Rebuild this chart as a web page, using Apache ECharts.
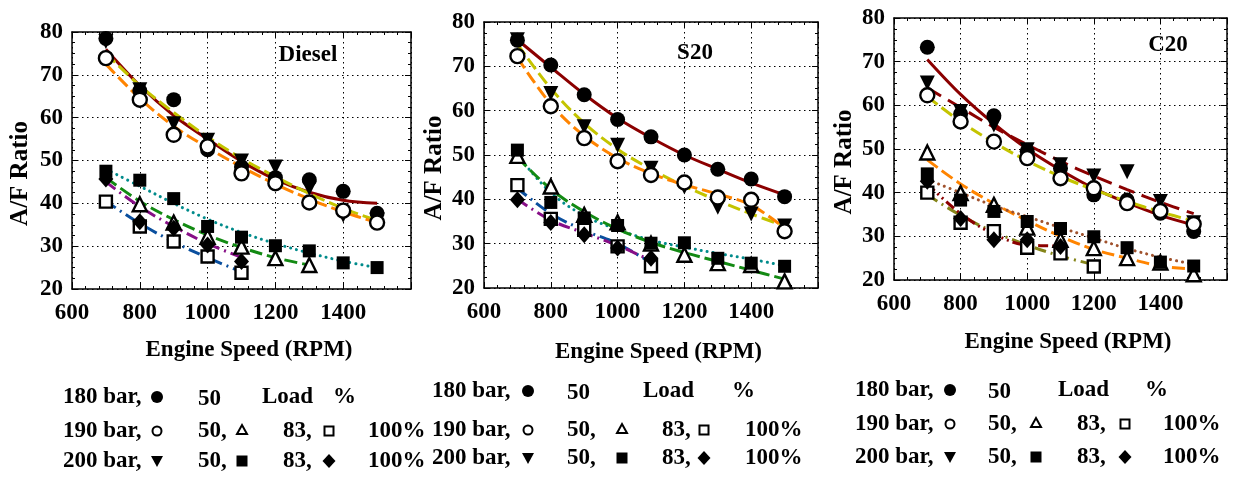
<!DOCTYPE html>
<html>
<head>
<meta charset="utf-8">
<title>A/F Ratio vs Engine Speed</title>
<script src="https://cdn.jsdelivr.net/npm/echarts@6.0.0/dist/echarts.min.js"></script>
<style>
  html, body { margin: 0; padding: 0; background: #fff; }
  #chart { width: 1237px; height: 481px; }
</style>
</head>
<body>
<div id="chart"></div>
<script>
// engine speeds (RPM) shared by every series
const speeds = [700, 800, 900, 1000, 1100, 1200, 1300, 1400, 1500]
const panelTitles = ['Diesel', 'S20', 'C20']
const pressureLabels = ['180 bar,', '190 bar,', '200 bar,']
const loadLabels = ['50', '50,', '83,', '100%']

// ---- Diesel: measured points ----
const dsl180_50 = [78.5, 66.3, 64.2, 52.5, 48.5, 46.0, 45.5, 42.8, 37.7]
const dsl190_50 = [73.9, 64.2, 56.0, 53.3, 47.0, 44.7, 40.2, 38.3, 35.5]
const dsl200_50 = [77.8, 66.5, 58.6, 54.7, 49.9, 48.5, 43.5, 37.2, 36.2]
const dsl190_83 = [null, 39.8, 35.5, 32.2, 29.9, 27.2, 25.6]
const dsl200_83 = [47.5, 45.4, 41.1, 34.6, 32.1, 30.1, 28.9, 26.1, 25.0]
const dsl190_100 = [40.4, 34.6, 31.1, 27.6, 23.8]
const dsl200_100 = [45.7, 35.7, 34.2, 30.3, 26.4]
// ---- Diesel: trend lines ----
const dslFit180_50 = [76.0, 67.5, 60.5, 55.0, 49.8, 45.6, 42.6, 40.7, 40.0]
const dslFit190_50 = [72.5, 64.5, 58.0, 53.0, 48.5, 44.5, 41.0, 38.0, 35.5]
const dslFit200_50 = [75.0, 67.5, 61.2, 55.5, 50.5, 46.2, 42.3, 38.8, 36.0]
const dslFit190_83 = [46.0, 40.5, 36.2, 32.6, 29.7, 27.3, 25.6]
const dslFit200_83 = [48.0, 44.0, 40.0, 36.3, 33.2, 30.6, 28.4, 26.5, 25.0]
const dslFit190_100 = [40.5, 35.3, 31.0, 27.3, 24.0]
const dslFit200_100 = [45.0, 39.2, 34.6, 30.6, 27.4]

// ---- S20: measured points ----
const s20_180_50 = [75.9, 70.3, 63.6, 58.0, 54.1, 50.0, 46.8, 44.6, 40.6]
const s20_190_50 = [72.3, 61.0, 53.8, 48.6, 45.5, 43.8, 40.4, 39.9, 32.8]
const s20_200_50 = [76.0, 63.9, 56.4, 52.2, 47.0, 42.8, 38.2, 36.7, 34.0]
const s20_190_83 = [49.8, 42.9, 36.5, 34.8, 30.0, 27.5, 25.6, 25.2, 21.5]
const s20_200_83 = [51.1, 39.3, 35.8, 34.1, 30.1, 30.2, 26.7, 25.6, 24.9]
const s20_190_100 = [43.2, 35.6, 33.1, 29.4, 24.9]
const s20_200_100 = [39.9, 34.8, 32.0, 29.0, 26.7]
// ---- S20: trend lines ----
const s20Fit180_50 = [76.0, 69.8, 63.7, 58.3, 53.9, 50.0, 46.8, 43.7, 41.0]
const s20Fit190_50 = [72.0, 61.5, 54.3, 49.3, 45.8, 43.3, 41.2, 38.7, 33.5]
const s20Fit200_50 = [75.0, 65.0, 57.2, 51.3, 46.8, 43.0, 39.7, 36.7, 34.0]
const s20Fit190_83 = [49.5, 42.3, 37.2, 33.3, 30.3, 28.0, 26.0, 24.0, 22.0]
const s20Fit200_83 = [50.0, 41.5, 36.3, 33.2, 30.8, 29.2, 27.8, 26.5, 25.0]
const s20Fit190_100 = [42.5, 36.8, 33.0, 30.0, 25.7]
const s20Fit200_100 = [40.0, 35.3, 32.4, 29.6, 26.2]

// ---- C20: measured points ----
const c20_180_50 = [73.3, 58.0, 57.6, 49.5, 45.6, 39.5, 38.3, 35.3, 31.1]
const c20_190_50 = [62.3, 56.3, 51.7, 47.9, 43.3, 41.0, 37.6, 35.8, 32.8]
const c20_200_50 = [65.1, 58.6, 55.5, 49.8, 46.4, 43.8, 44.8, 38.0, 33.1]
const c20_190_83 = [49.2, 39.9, 37.2, 32.0, 29.2, 27.3, 25.0, 24.0, 21.3]
const c20_200_83 = [44.3, 38.3, 35.7, 33.4, 31.8, 29.9, 27.4, 24.1, 23.2]
const c20_190_100 = [40.0, 33.1, 31.2, 27.4, 26.1, 23.1]
const c20_200_100 = [42.6, 34.1, 29.2, 29.2, 27.7]
// ---- C20: trend lines ----
const c20Fit180_50 = [70.5, 62.5, 55.8, 50.0, 45.2, 41.0, 37.7, 34.8, 32.6]
const c20Fit190_50 = [62.0, 56.3, 51.5, 47.3, 43.7, 40.7, 38.0, 35.6, 33.5]
const c20Fit200_50 = [64.0, 59.5, 55.0, 51.0, 47.2, 43.8, 40.7, 37.8, 35.2]
const c20Fit190_83 = [47.5, 42.0, 37.5, 33.6, 30.0, 27.0, 25.0, 23.2, 22.5]
const c20Fit200_83 = [43.0, 40.0, 37.0, 34.5, 32.0, 29.6, 27.2, 25.2, 23.6]
const c20Fit190_100 = [39.5, 34.8, 31.0, 28.0, 25.5, 23.5]
const c20Fit200_100 = [42.0, 35.2, 30.5, 28.0, 27.8]

const serif = '"Liberation Serif", "Times New Roman", serif'
const DARKRED = '#8b0000'
const YELLOW = '#c4c400'
const ORANGE = '#ff8400'
const GREEN = '#138a13'
const TEAL = '#008b8b'
const BLUE = '#0a4f9e'
const PURPLE = '#870f87'
const BROWN = '#a0522d'
const OLIVE = '#85851a'

const DASH = [13, 5]
const DOT = [0.1, 6]
const DASHDOT = [12, 5, 2, 5]

const markerStyles = {
  fillCircle: { symbol: 'circle', size: 15, filled: true },
  openCircle: { symbol: 'circle', size: 14, filled: false },
  downTri: { symbol: 'triangle', size: 15, filled: true, rotate: 180 },
  openTri: { symbol: 'triangle', size: 14, filled: false },
  fillSquare: { symbol: 'rect', size: 13, filled: true },
  openSquare: { symbol: 'rect', size: 12, filled: false },
  diamond: { symbol: 'diamond', size: [15, 17], filled: true }
}

const pairs = (values) =>
  values.map((v, i) => [speeds[i], v]).filter(p => p[1] != null)

const markers = (panel, values, kind) => {
  const m = markerStyles[kind]
  return {
    type: 'scatter',
    xAxisIndex: panel * 2,
    yAxisIndex: panel * 2,
    data: pairs(values),
    symbol: m.symbol,
    symbolSize: m.size,
    symbolRotate: m.rotate || 0,
    itemStyle: m.filled
      ? { color: '#000', opacity: 1 }
      : { color: '#fff', borderColor: '#000', borderWidth: 2.4, opacity: 1 },
    z: 5,
    silent: true
  }
}

const trend = (panel, values, color, dash) => ({
  type: 'line',
  xAxisIndex: panel * 2,
  yAxisIndex: panel * 2,
  data: pairs(values),
  smooth: 0.35,
  symbol: 'none',
  lineStyle: { color, width: 3, type: dash, cap: dash === DOT ? 'round' : 'butt' },
  z: 3,
  silent: true
})

const series = [
  // Diesel
  trend(0, dslFit180_50, DARKRED, 'solid'),
  trend(0, dslFit200_50, YELLOW, DASH),
  trend(0, dslFit190_50, ORANGE, DASH),
  trend(0, dslFit200_83, TEAL, DOT),
  trend(0, dslFit190_83, GREEN, DASH),
  trend(0, dslFit190_100, BLUE, DASHDOT),
  trend(0, dslFit200_100, PURPLE, DASHDOT),
  markers(0, dsl180_50, 'fillCircle'),
  markers(0, dsl200_50, 'downTri'),
  markers(0, dsl190_50, 'openCircle'),
  markers(0, dsl190_83, 'openTri'),
  markers(0, dsl190_100, 'openSquare'),
  markers(0, dsl200_83, 'fillSquare'),
  markers(0, dsl200_100, 'diamond'),
  // S20
  trend(1, s20Fit180_50, DARKRED, 'solid'),
  trend(1, s20Fit200_50, YELLOW, DASH),
  trend(1, s20Fit190_50, ORANGE, DASH),
  trend(1, s20Fit200_83, TEAL, DOT),
  trend(1, s20Fit190_83, GREEN, DASH),
  trend(1, s20Fit190_100, BLUE, DASHDOT),
  trend(1, s20Fit200_100, PURPLE, DASHDOT),
  markers(1, s20_180_50, 'fillCircle'),
  markers(1, s20_200_50, 'downTri'),
  markers(1, s20_190_50, 'openCircle'),
  markers(1, s20_190_83, 'openTri'),
  markers(1, s20_190_100, 'openSquare'),
  markers(1, s20_200_83, 'fillSquare'),
  markers(1, s20_200_100, 'diamond'),
  // C20
  trend(2, c20Fit180_50, DARKRED, 'solid'),
  trend(2, c20Fit200_50, DARKRED, [16, 8]),
  trend(2, c20Fit190_50, YELLOW, DASH),
  trend(2, c20Fit190_83, ORANGE, DASH),
  trend(2, c20Fit200_83, BROWN, DOT),
  trend(2, c20Fit190_100, OLIVE, DASHDOT),
  trend(2, c20Fit200_100, DARKRED, [10, 4, 2, 4, 2, 4]),
  markers(2, c20_180_50, 'fillCircle'),
  markers(2, c20_200_50, 'downTri'),
  markers(2, c20_190_50, 'openCircle'),
  markers(2, c20_190_83, 'openTri'),
  markers(2, c20_190_100, 'openSquare'),
  markers(2, c20_200_83, 'fillSquare'),
  markers(2, c20_200_100, 'diamond')
]

const grids = [
  { left: 72, top: 32, width: 339, height: 257 },
  { left: 484, top: 22, width: 334, height: 266 },
  { left: 894, top: 18, width: 333, height: 262 }
]

const frameLine = { show: true, onZero: false, lineStyle: { color: '#000', width: 1.5 } }
const dottedGrid = { show: true, lineStyle: { color: '#000', width: 1, type: [1.5, 3.5] } }
const tickFont = { color: '#000', fontFamily: serif, fontWeight: 'bold', fontSize: 23 }
const nameFont = { color: '#000', fontFamily: serif, fontWeight: 'bold' }

const xAxes = []
const yAxes = []
grids.forEach((g, i) => {
  const xBase = {
    gridIndex: i, type: 'value', min: 600, max: 1600, interval: 200,
    axisLine: frameLine,
    axisTick: { inside: true, length: 6, lineStyle: { color: '#000' } },
    minorTick: { show: true, splitNumber: 5, length: 3, lineStyle: { color: '#000' } }
  }
  const yBase = {
    gridIndex: i, type: 'value', min: 20, max: 80, interval: 10,
    axisLine: frameLine,
    axisTick: { inside: true, length: 6, lineStyle: { color: '#000' } },
    minorTick: { show: true, splitNumber: 4, length: 3, lineStyle: { color: '#000' } }
  }
  xAxes.push({
    ...xBase,
    position: 'bottom',
    axisLabel: { ...tickFont, margin: 13, showMaxLabel: false, formatter: v => String(v) },
    splitLine: dottedGrid,
    name: 'Engine Speed (RPM)',
    nameLocation: 'middle',
    nameGap: [50, 53, 51][i],
    nameTextStyle: { ...nameFont, fontSize: 23, padding: [0, 0, 0, 15] }
  })
  xAxes.push({ ...xBase, position: 'top', axisLabel: { show: false }, splitLine: { show: false } })
  yAxes.push({
    ...yBase,
    position: 'left',
    axisLabel: { ...tickFont, margin: 9 },
    splitLine: dottedGrid,
    name: 'A/F Ratio',
    nameLocation: 'middle',
    nameRotate: 90,
    nameGap: [39, 37, 37][i],
    nameTextStyle: { ...nameFont, fontSize: 25, padding: [0, 26, 0, 0] }
  })
  yAxes.push({ ...yBase, position: 'right', axisLabel: { show: false }, splitLine: { show: false } })
})

// panel titles inside the plots
const titlePos = [[308, 55], [695, 53], [1168, 45]]

// legend block under each panel
const legendFont = 'bold 23px ' + serif
const legendLayouts = [
  { rows: [397, 431, 461], bar: 63, m1: 157, n1: 198, m2: 242, n2: 283, m3: 329, n3: 368, load: 262, pct: 333 },
  { rows: [391, 430, 458], bar: 432, m1: 528, n1: 567, m2: 622, n2: 662, m3: 704, n3: 745, load: 643, pct: 732 },
  { rows: [390, 424, 457], bar: 855, m1: 950, n1: 988, m2: 1036, n2: 1077, m3: 1125, n3: 1163, load: 1058, pct: 1145 }
]

const legendText = (x, y, text) => ({
  type: 'text', x, y,
  style: { text, font: legendFont, fill: '#000', textAlign: 'left', textVerticalAlign: 'middle' }
})

const legendKey = (kind, cx, cy) => {
  const solid = { fill: '#000' }
  const hollow = { fill: '#fff', stroke: '#000', lineWidth: 2 }
  switch (kind) {
    case 'fillCircle': return { type: 'circle', shape: { cx, cy, r: 6 }, style: solid }
    case 'openCircle': return { type: 'circle', shape: { cx, cy, r: 4.5 }, style: hollow }
    case 'downTri': return { type: 'polygon', shape: { points: [[cx - 6, cy - 5], [cx + 6, cy - 5], [cx, cy + 6]] }, style: solid }
    case 'openTri': return { type: 'polygon', shape: { points: [[cx - 5, cy + 4], [cx + 5, cy + 4], [cx, cy - 5]] }, style: hollow }
    case 'fillSquare': return { type: 'rect', shape: { x: cx - 5.5, y: cy - 5.5, width: 11, height: 11 }, style: solid }
    case 'openSquare': return { type: 'rect', shape: { x: cx - 4.5, y: cy - 4.5, width: 9, height: 9 }, style: hollow }
    default: return { type: 'polygon', shape: { points: [[cx, cy - 7], [cx + 6.5, cy], [cx, cy + 7], [cx - 6.5, cy]] }, style: solid }
  }
}

const graphics = []
titlePos.forEach(([x, y], i) => {
  graphics.push({
    type: 'text', x, y, z: 10,
    style: { text: panelTitles[i], font: 'bold 23px ' + serif, fill: '#000', textAlign: 'center', textVerticalAlign: 'middle' }
  })
})
legendLayouts.forEach(L => {
  const [r1, r2, r3] = L.rows
  graphics.push(
    legendText(L.bar, r1, pressureLabels[0]),
    legendKey('fillCircle', L.m1, r1),
    legendText(L.n1, r1 + 2, loadLabels[0]),
    legendText(L.load, r1, 'Load'),
    legendText(L.pct, r1, '%'),

    legendText(L.bar, r2, pressureLabels[1]),
    legendKey('openCircle', L.m1, r2),
    legendText(L.n1, r2, loadLabels[1]),
    legendKey('openTri', L.m2, r2 - 1),
    legendText(L.n2, r2, loadLabels[2]),
    legendKey('openSquare', L.m3, r2),
    legendText(L.n3, r2, loadLabels[3]),

    legendText(L.bar, r3, pressureLabels[2]),
    legendKey('downTri', L.m1, r3),
    legendText(L.n1, r3, loadLabels[1]),
    legendKey('fillSquare', L.m2, r3),
    legendText(L.n2, r3, loadLabels[2]),
    legendKey('diamond', L.m3, r3),
    legendText(L.n3, r3, loadLabels[3])
  )
})

const chart = echarts.init(document.getElementById('chart'))
chart.setOption({
  animation: false,
  backgroundColor: '#fff',
  grid: grids,
  xAxis: xAxes,
  yAxis: yAxes,
  series,
  graphic: graphics
})
</script>
</body>
</html>
